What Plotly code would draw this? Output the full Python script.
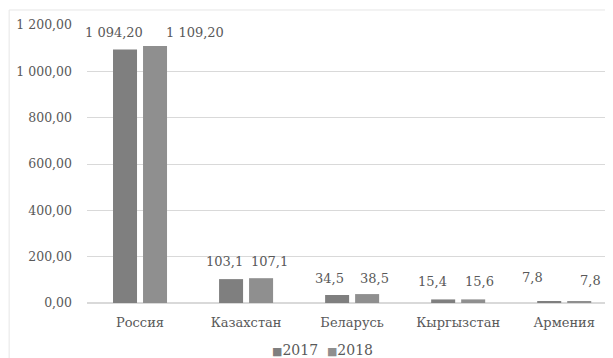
import plotly.graph_objects as go

countries = ["Россия", "Казахстан", "Беларусь", "Кыргызстан", "Армения"]
values_2017 = [1094.2, 103.1, 34.5, 15.4, 7.8]
values_2018 = [1109.2, 107.1, 38.5, 15.6, 7.8]
labels_2017 = ["1 094,20", "103,1", "34,5", "15,4", "7,8"]
labels_2018 = ["1 109,20", "107,1", "38,5", "15,6", "7,8"]
tick_vals = [0, 200, 400, 600, 800, 1000, 1200]

font_main = "DejaVu Serif"
text_col = "#595959"
col_2017 = "#7f7f7f"
col_2018 = "#8f8f8f"

fig = go.Figure()
fig.add_trace(go.Bar(x=countries, y=values_2017, name="2017",
                     marker=dict(color=col_2017, line=dict(width=0))))
fig.add_trace(go.Bar(x=countries, y=values_2018, name="2018",
                     marker=dict(color=col_2018, line=dict(width=0))))

# data labels, nudged around like in the original (shift from category centre)
shift_2017 = [(-26, 17), (-22, 18), (-23, 17), (-26, 18), (-32, 24)]
shift_2018 = [(55, 14), (23, 17), (22, 16), (21, 18), (26, 21)]
for i, c in enumerate(countries):
    for val, lab, (dx, dy) in ((values_2017[i], labels_2017[i], shift_2017[i]),
                               (values_2018[i], labels_2018[i], shift_2018[i])):
        fig.add_annotation(x=c, y=val, text=lab, showarrow=False,
                           xshift=dx, yshift=dy, yanchor="middle",
                           font=dict(family=font_main, size=13, color=text_col))

# legend drawn as a text line with small squares
legend_txt = (f'<span style="color:{col_2017};font-size:11px">■</span>2017  '
              f'<span style="color:{col_2018};font-size:11px">■</span>2018')
fig.add_annotation(xref="paper", yref="paper", x=0.447, y=-0.17,
                   xanchor="center", yanchor="middle", showarrow=False,
                   text=legend_txt,
                   font=dict(family=font_main, size=14, color=text_col))

# light chart border
fig.add_shape(type="rect", xref="paper", yref="paper",
              x0=-0.148, x1=1.1, y0=-0.3, y1=1.054,
              line=dict(color="#e6e6e6", width=1), layer="below")

fig.update_layout(
    width=605, height=350,
    margin=dict(l=79, r=0, t=17, b=55),
    plot_bgcolor="white", paper_bgcolor="white",
    barmode="group", bargap=0.434, bargroupgap=0.2,
    separators=", ",
    font=dict(family=font_main, size=13, color=text_col),
    showlegend=False,
)
fig.update_yaxes(range=[0, 1200], tickvals=tick_vals, tickformat=",.2f",
                 tickfont=dict(size=12.5),
                 showgrid=True, gridcolor="#d9d9d9", gridwidth=1,
                 zeroline=True, zerolinecolor="#d9d9d9", showline=False,
                 ticks="", ticklabelstandoff=14)
fig.update_xaxes(range=[-0.5, 4.46], showline=False, ticks="",
                 tickfont=dict(size=13), ticklabelstandoff=10)

fig.write_html("out.html")
